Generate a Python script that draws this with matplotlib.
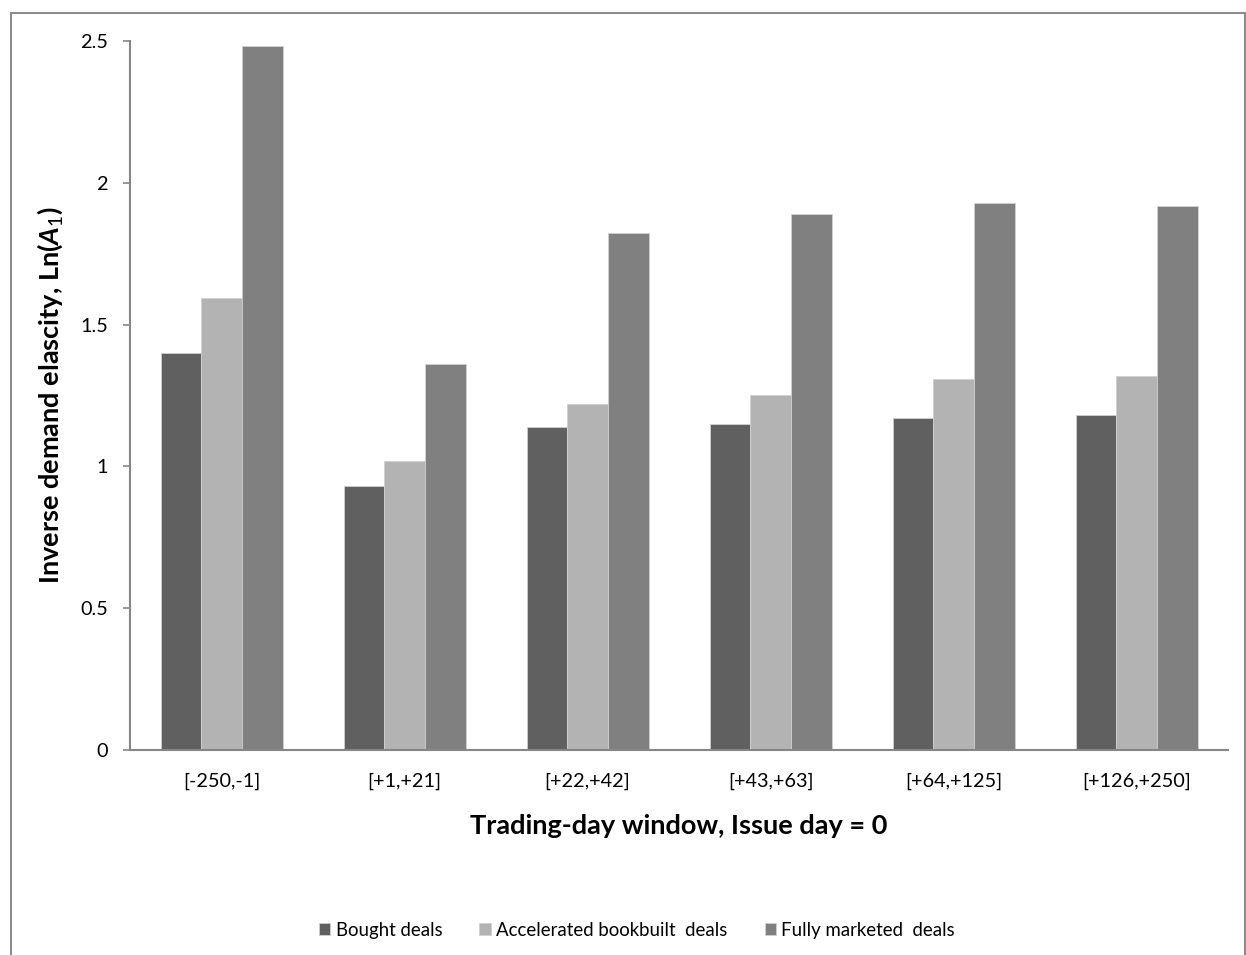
import matplotlib
matplotlib.use("Agg")
import matplotlib.pyplot as plt
import numpy as np
from matplotlib.patches import Rectangle

windows = ["[-250,-1]", "[+1,+21]", "[+22,+42]", "[+43,+63]", "[+64,+125]", "[+126,+250]"]
bought = [1.40, 0.93, 1.14, 1.15, 1.17, 1.18]
accelerated = [1.595, 1.02, 1.22, 1.25, 1.31, 1.32]
fully_marketed = [2.485, 1.36, 1.825, 1.89, 1.93, 1.92]
series_names = ["Bought deals", "Accelerated bookbuilt  deals", "Fully marketed  deals"]
series_colors = ["#606060", "#b3b3b3", "#808080"]
yticks = [0, 0.5, 1, 1.5, 2, 2.5]
ytick_labels = ["0", "0.5", "1", "1.5", "2", "2.5"]

plt.rcParams["font.family"] = ["Lato", "DejaVu Sans"]
plt.rcParams["mathtext.fontset"] = "custom"
plt.rcParams["mathtext.rm"] = "Lato"
plt.rcParams["mathtext.it"] = "Lato:italic:bold"
plt.rcParams["mathtext.bf"] = "Lato:bold"

W, H = 1246, 955
fig = plt.figure(figsize=(W / 100, H / 100), dpi=100)
ax = fig.add_axes([130 / W, 1 - 749.5 / H, 1098 / W, 708 / H])

# frame around the whole chart area
fig.patches.append(Rectangle((11 / W, -0.05), (1245 - 11) / W, 1 - 13 / H + 0.05,
                             transform=fig.transFigure, fill=False,
                             edgecolor="#8c8c8c", linewidth=1.5))

x = np.arange(len(windows))
width = 1 / 4.5
all_series = [bought, accelerated, fully_marketed]
for i, (vals, name, col) in enumerate(zip(all_series, series_names, series_colors)):
    ax.bar(x + (i - 1) * width, vals, width, color=col, label=name,
           edgecolor="#d0d0d0", linewidth=0.6)

ax.set_xlim(-0.5, len(windows) - 0.5)
ax.set_ylim(0, 2.5)
ax.set_yticks(yticks)
ax.set_yticklabels(ytick_labels)
ax.set_xticks(x)
ax.set_xticklabels(windows)

for side in ["top", "right"]:
    ax.spines[side].set_visible(False)
for side in ["left", "bottom"]:
    ax.spines[side].set_color("#868686")
    ax.spines[side].set_linewidth(1.5)

ax.tick_params(axis="y", direction="out", length=5, width=1.2, color="#868686",
               labelsize=14.3, pad=11, labelcolor="#000000")
ax.tick_params(axis="x", length=0, labelsize=14.3, pad=17, labelcolor="#000000")

ax.set_ylabel(r"Inverse demand elascity, Ln($\mathit{A}_{1}$)", fontsize=19.5,
              fontweight="bold", va="center")
ax.yaxis.set_label_coords((50 - 130) / 1098, 0.5)
ax.set_xlabel("Trading-day window, Issue day = 0", fontsize=19.5,
              fontweight="bold", va="center")
ax.xaxis.set_label_coords(0.5, (749.5 - 826) / 708)

fig.legend(loc="center", bbox_to_anchor=(637 / W, 1 - 930 / H), ncol=3,
           frameon=False, fontsize=13.4, handlelength=0.6, handleheight=0.6,
           handletextpad=0.3, columnspacing=2.0)

fig.savefig("out.png", dpi=100, facecolor="white")
